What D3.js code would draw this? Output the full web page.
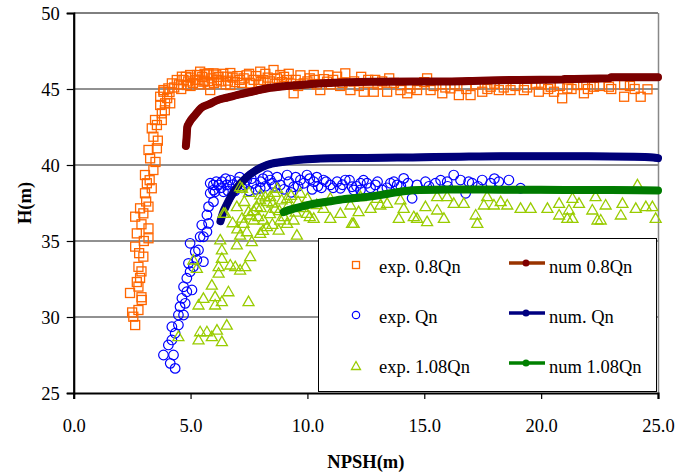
<!DOCTYPE html>
<html><head><meta charset="utf-8">
<script src="https://cdn.jsdelivr.net/npm/d3@7"></script>
<style>
body{margin:0;background:#fff}
svg{display:block}
text{font-family:"Liberation Serif","Times New Roman",serif;fill:#000}
</style>
</head><body>
<svg id="c" width="693" height="474"></svg>
<script>
// ---- data ----
const xTicks = [0, 5, 10, 15, 20, 25];
const yTicks = [25, 30, 35, 40, 45, 50];
const gridValues = [30, 35, 40, 45];
const xTitle = "NPSH(m)";
const yTitle = "H(m)";
const legendLabels = ["exp. 0.8Qn", "num 0.8Qn", "exp. Qn", "num. Qn", "exp. 1.08Qn", "num 1.08Qn"];

const exp08 = [
[2.63,29.47],[2.55,30.02],[2.77,30.46],[2.41,31.58],[2.91,31.12],[2.77,32.0],[2.84,32.57],[2.77,33.3],[2.98,33.97],[2.63,34.63],[3.2,35.18],[2.70,35.5],[3.2,35.83],[2.63,36.6],[2.98,36.82],[2.84,37.15],[3.2,37.26],[3.05,38.14],[3.34,38.47],[3.13,38.8],[3.05,39.34],[3.41,39.67],[3.27,40.44],[3.2,40.99],[3.56,41.1],[3.41,41.86],[3.34,42.41],[3.56,42.63],[3.77,42.96],[3.48,42.96],[3.77,43.4],[3.70,43.95],[3.91,44.06],[3.70,44.49],[3.84,44.82],[4.05,45.04],[4.20,45.37],[4.41,45.59],[4.63,45.81],[4.98,45.92],[5.41,46.14],[5.77,46.03],[6.13,45.59],
[2.5,30.3],[2.9,31.3],[2.7,32.3],[2.9,33.0],[2.8,34.2],[3.0,35.0],[2.9,36.1],[3.1,37.6],[3.25,39.0],[3.5,40.2],[3.6,41.6],[3.9,43.6],[4.0,44.4],[4.1,44.8],[4.3,45.1],
[3.84,44.93],[4.13,44.06],[4.84,45.26],[5.27,45.92],[5.55,45.48],[5.84,44.93],[5.98,46.03],[6.55,45.81],[6.70,45.26],[7.27,45.7],[7.55,45.37],[7.98,46.14],[8.12,45.59],[8.55,46.25],[8.84,45.92],[9.13,45.59],[9.41,44.72],[9.84,45.37],[10.27,45.92],[10.55,44.93],[10.84,45.48],[11.27,45.81],[11.62,46.03],[11.84,44.93],[12.41,44.82],[12.84,44.82],[13.41,44.82],[13.98,44.93],[14.41,45.04],[14.27,44.72],
[4.5,45.3],[4.7,45.6],[4.9,45.5],[5.0,45.75],[5.1,45.4],[5.2,45.6],[5.35,45.3],[5.5,45.8],[5.6,45.55],[5.7,45.95],[5.9,45.7],[6.0,45.4],[6.2,45.8],[6.3,45.5],[6.4,46.0],[6.6,45.55],[6.8,45.75],[6.9,45.45],[7.0,45.85],[7.1,45.6],[7.4,45.9],[7.7,45.6],[7.8,45.85],[8.0,45.45],[8.3,45.75],[8.4,45.5],[8.7,45.7],[8.9,45.45],[9.0,45.8],[9.3,45.35],[9.5,45.6],[9.7,45.9],[10.0,45.5],[10.1,45.7],[10.4,45.3],[10.7,45.65],[11.0,45.3],[11.1,45.6],[11.5,45.4],[12.0,45.5],[12.2,45.2],[12.6,45.6],[13.0,45.3],[13.2,45.5],[13.7,45.4],[14.0,45.25],[14.7,45.3],[15.0,45.45],[15.4,45.2],[15.9,45.1],[16.3,45.3],[16.8,45.0],[17.2,45.3],[17.7,45.0],[18.0,45.35],[18.4,45.1],[18.9,45.2],[19.4,45.1],[20.0,45.3],[20.3,45.0],[20.8,45.2],[21.3,45.0],[21.8,45.3],[22.0,45.0],[22.5,45.2],[23.0,45.0],[23.8,45.2],[24.0,45.0],
[4.6,45.0],[4.8,45.8],[5.0,45.2],[5.3,45.6],[5.6,46.0],[5.8,45.3],[6.1,45.95],[6.5,45.3],[6.7,46.05],[7.2,45.4],[7.5,46.0],[7.9,45.3],[8.2,46.0],[8.6,45.35],[9.2,46.0],[9.6,45.2],[10.3,45.6],[10.9,45.9],[11.4,45.2],[12.3,45.8],[12.9,45.6],[13.5,45.7],
[20.9,44.39],[23.55,44.49],[24.26,44.49],[24.55,44.98],[23.55,45.26],[22.9,45.15],[22.26,45.15],[21.83,44.72],[21.12,45.04],[20.55,44.82],[19.9,44.82],[19.26,44.93],[18.69,44.93],[18.19,44.93],[17.48,44.82],[16.98,44.6],[16.48,44.6],[15.77,44.72],[15.12,45.7],[14.69,44.93],[15.27,44.93],[16.12,45.04],[17.84,45.15],[19.76,45.37],[20.41,45.15],[21.55,45.26]
];

const num08 = [
[4.80,41.25],[4.83,41.8],[4.86,42.5],[4.95,42.8],[5.2,43.3],[5.45,43.75],[5.8,44.0],[6.13,44.25],[6.6,44.45],[7.1,44.65],[7.7,44.85],[8.3,45.05],[9.0,45.18],[9.7,45.27],[10.5,45.36],[11.8,45.45],[13,45.48],[14.5,45.5],[16,45.5],[17.4,45.55],[19,45.6],[20.9,45.62],[21.0,45.66],[22.9,45.7],[23.0,45.77],[25,45.78]
];

const expQn = [
[4.34,26.62],[4.13,26.95],[3.84,27.5],[4.27,27.5],[4.05,28.16],[4.20,28.49],[4.34,28.93],[4.48,29.47],[4.20,29.36],[4.70,30.13],[4.48,30.13],[4.55,30.68],[4.77,30.9],[4.63,31.23],[4.84,31.66],[4.70,31.99],[5.06,31.78],[4.84,32.55],[4.98,32.98],[5.12,33.31],[4.91,33.53],[5.55,33.64],[5.27,33.75],[5.20,34.3],[4.98,34.85],[5.34,34.41],[5.41,35.28],[5.55,35.28],[5.70,35.61],[5.48,36.05],[5.77,36.16],[5.70,36.71],[5.77,37.26],[5.98,37.59],[5.84,38.14],[6.05,38.24],[6.2,38.69],[6.41,38.24],[5.98,38.35],[6.34,38.9],[6.55,38.69],[6.7,39.01],[5.84,38.8],[5.98,38.69],
[7.0,38.9],[7.2,38.5],[7.4,39.0],[7.7,38.8],[7.98,38.47],[8.1,39.1],[8.41,39.01],[8.6,38.6],[8.84,38.69],[9.13,39.34],[9.41,38.57],[9.7,39.01],[9.98,39.34],[10.27,38.9],[10.45,38.6],[6.9,38.3],[7.5,38.3],
[6.1,38.9],[6.3,38.5],[6.5,39.1],[6.6,38.3],[6.8,38.7],[7.1,39.2],[7.3,38.7],[7.6,39.1],[7.8,38.4],[8.0,38.9],[8.2,38.6],[8.3,39.3],[8.5,38.8],[8.7,39.2],[9.0,38.4],[9.2,38.9],[9.3,38.2],[9.5,39.2],[9.6,38.6],[9.85,38.8],[10.1,39.1],[10.2,38.4],[10.4,39.2],[10.6,38.5],[10.8,38.9],[11.1,38.5],[11.5,38.7],[11.8,39.0],[12.1,38.6],[12.4,39.0],[12.7,38.5],[13.0,38.9],[13.4,38.5],[13.7,38.9],[14.0,38.6],[14.3,38.8],[15.2,38.6],[15.7,39.0],[16.0,38.6],[16.9,38.9],[17.3,38.6],[18.0,39.1],
[10.69,39.01],[10.98,38.69],[11.27,38.9],[11.62,39.01],[11.91,38.57],[12.27,38.8],[12.27,38.36],[12.55,38.8],[12.91,38.69],[13.2,38.36],[13.55,38.8],[13.84,38.69],[14.12,39.12],[14.48,37.81],[14.69,38.69],[15.05,38.9],[15.48,38.8],[15.98,38.9],[16.26,39.34],[16.55,39.01],[16.77,38.14],[17.05,38.8],[17.48,39.01],[17.84,38.8],[18.19,38.9],[18.62,39.01],[19.12,38.47],[11.41,38.47],[11.98,38.36]
];

const numQn = [
[6.28,36.3],[6.4,36.9],[6.55,37.4],[6.7,37.85],[6.95,38.45],[7.4,39.2],[7.8,39.65],[8.27,40.0],[8.9,40.2],[9.55,40.33],[10.2,40.4],[11.0,40.44],[12.5,40.46],[14.5,40.5],[16.5,40.55],[18.3,40.58],[20,40.58],[22,40.57],[24,40.55],[24.8,40.5],[25,40.45]
];

const exp108 = [
[4.48,28.71],[5.34,28.49],[5.41,29.03],[5.70,29.03],[5.91,28.71],[6.13,29.14],[6.34,28.38],[6.55,29.47],[5.34,30.79],[5.55,31.23],[6.05,31.34],[6.05,30.79],[6.34,31.01],[6.62,31.66],[7.48,31.01],[5.91,32.1],[6.2,32.88],[6.2,33.31],[5.12,33.75],[5.27,33.2],[6.34,33.86],[6.70,33.42],[7.12,33.09],[6.91,33.31],[7.34,33.31],[7.55,33.97],[6.34,34.41],[6.27,35.07],[6.98,34.74],[7.62,34.96],[7.12,35.39],[7.41,35.61],[7.98,35.5],[9.55,35.39],[7.27,36.16],[7.7,36.38],[8.27,35.94],[8.77,35.72],[9.13,36.16],[6.98,37.26],[6.48,36.82],[7.48,36.93],[7.84,37.26],[7.98,37.7],[8.27,37.59],[8.62,37.15],[8.84,36.38],[9.41,36.38],[9.70,38.14],[8.70,38.47],[7.2,38.47],[7.98,38.03],[8.41,37.92],[9.13,37.81],[9.98,36.82],[10.27,36.49],[7.55,36.71],[8.12,36.38],[7.12,38.57],[6.41,36.82],
[7.3,37.6],[7.5,38.2],[7.7,37.0],[7.9,36.6],[8.0,37.2],[8.2,37.9],[8.4,36.8],[8.5,37.5],[8.6,38.2],[8.8,37.0],[8.9,37.7],[9.0,36.6],[9.2,37.4],[9.3,38.0],[9.5,36.9],[9.6,37.6],[9.8,37.2],[10.0,37.8],[10.1,36.6],[10.4,37.4],[6.8,36.2],[7.0,35.8],[7.2,36.5],[8.1,35.7],[8.5,36.1],
[10.69,37.15],[10.98,36.49],[11.41,36.82],[11.84,37.37],[11.91,36.16],[12.19,36.93],[12.70,37.15],[13.12,37.37],[13.41,37.48],[13.91,36.49],[14.12,37.15],[14.69,36.49],[15.12,36.27],[15.05,37.26],[15.55,37.04],[15.84,36.49],[15.98,37.92],[16.26,37.48],[16.69,37.48],[17.2,36.71],[17.55,37.37],[17.98,37.37],[18.27,37.59],[18.55,37.37],[19.12,37.15],[19.55,37.15],[20.27,37.15],[20.77,37.48],[20.77,36.71],[21.19,37.04],[21.34,37.81],[21.34,36.49],[21.62,37.48],[22.19,37.04],[22.33,37.92],[22.55,36.38],[22.76,37.37],[23.41,36.71],[23.48,37.48],[24.12,38.69],[24.05,37.15],[24.48,37.26],[24.76,37.26],[24.9,36.49],[10.98,37.81],[12.27,37.92],[12.98,37.81],[13.98,37.7],[15.55,37.92],[17.69,37.92],[11.98,36.16],[14.55,36.6],[17.27,36.16],[21.12,36.49],[22.41,36.38]
];

const num108 = [
[8.98,36.9],[9.3,37.08],[9.8,37.28],[10.27,37.45],[11.0,37.62],[11.7,37.78],[12.4,37.88],[13.1,38.02],[13.8,38.2],[14.3,38.3],[14.8,38.35],[16.0,38.38],[17.5,38.38],[19,38.37],[21,38.36],[23,38.35],[25,38.33]
];

// ---- chart ----
const svg = d3.select("#c");
const x = d3.scaleLinear().domain([0, 25]).range([73.7, 658]);
const y = d3.scaleLinear().domain([25, 50]).range([393, 13]);

// gridlines
svg.append("g").selectAll("line").data(gridValues).join("line")
  .attr("x1", x(0)).attr("x2", x(25))
  .attr("y1", d => y(d)).attr("y2", d => y(d))
  .attr("stroke", "#222").attr("stroke-width", 1);

// frame top/right
svg.append("line").attr("x1", x(0)).attr("x2", x(25)).attr("y1", y(50)).attr("y2", y(50)).attr("stroke", "#000").attr("stroke-width", 1);
svg.append("line").attr("x1", x(25)+0.5).attr("x2", x(25)+0.5).attr("y1", y(50)).attr("y2", y(25)).attr("stroke", "#888").attr("stroke-width", 1.5);

// axes
const yAxis = svg.append("g").attr("transform", `translate(${x(0)},0)`)
  .call(d3.axisLeft(y).tickValues(yTicks).tickSize(7).tickPadding(7).tickFormat(d3.format("d")));
const xAxis = svg.append("g").attr("transform", `translate(0,${y(25)})`)
  .call(d3.axisBottom(x).tickValues(xTicks).tickSize(6).tickPadding(20).tickFormat(d3.format(".1f")));
[yAxis, xAxis].forEach(a => {
  a.select(".domain").attr("stroke", "#000").attr("stroke-width", 2.2);
  a.selectAll(".tick line").attr("stroke", "#000").attr("stroke-width", 1.2);
  a.selectAll(".tick text").style("font-family", '"Liberation Serif",serif').style("font-size", "18.5px").attr("fill", "#000");
});
yAxis.selectAll(".tick text").attr("dy", "0.33em");

// marker shapes
const sqSize = 9;
const triPath = "M0,-5.5L5.5,4L-5.5,4Z";
const line = d3.line().x(d => x(d[0])).y(d => y(d[1])).curve(d3.curveMonotoneX);

function drawSquares(data) {
  svg.append("g").selectAll("rect").data(data).join("rect")
    .attr("x", d => x(d[0]) - sqSize/2).attr("y", d => y(d[1]) - sqSize/2)
    .attr("width", sqSize).attr("height", sqSize)
    .attr("fill", "none").attr("stroke", "#FF6600").attr("stroke-width", 1.3);
}
function drawCircles(data) {
  svg.append("g").selectAll("circle").data(data).join("circle")
    .attr("cx", d => x(d[0])).attr("cy", d => y(d[1])).attr("r", 4.8)
    .attr("fill", "none").attr("stroke", "#0000FF").attr("stroke-width", 1.2);
}
function drawTris(data) {
  svg.append("g").selectAll("path").data(data).join("path")
    .attr("d", triPath).attr("transform", d => `translate(${x(d[0])},${y(d[1])})`)
    .attr("fill", "none").attr("stroke", "#99CC00").attr("stroke-width", 1.3);
}
function drawNum(data, lineCol, markCol) {
  svg.append("path").datum(data).attr("d", line)
    .attr("fill", "none").attr("stroke", lineCol).attr("stroke-width", 8)
    .attr("stroke-linecap", "round").attr("stroke-linejoin", "round");
  svg.append("path").datum(data).attr("d", line)
    .attr("fill", "none").attr("stroke", markCol).attr("stroke-width", 7)
    .attr("stroke-linecap", "round").attr("stroke-linejoin", "round");
}

drawSquares(exp08);
drawNum(num08, "#800000", "#7A0000");
drawCircles(expQn);
drawNum(numQn, "#000080", "#000078");
drawTris(exp108);
drawNum(num108, "#008000", "#007A00");

// legend
const lg = svg.append("g");
lg.append("rect").attr("x", 318.5).attr("y", 238.5).attr("width", 338).attr("height", 153)
  .attr("fill", "#fff").attr("stroke", "#000").attr("stroke-width", 1);
const rowY = [265, 315, 365];
const legendLineCols = ["#993300", "#000080", "#008000"];
const legendDotCols = ["#800000", "#000080", "#008000"];
rowY.forEach((ry, i) => {
  if (i === 0) lg.append("rect").attr("x", 352.5).attr("y", ry - 3.5).attr("width", 7).attr("height", 7)
      .attr("fill", "none").attr("stroke", "#FF6600").attr("stroke-width", 1.3);
  if (i === 1) lg.append("circle").attr("cx", 356).attr("cy", ry).attr("r", 3.7)
      .attr("fill", "none").attr("stroke", "#0000FF").attr("stroke-width", 1.2);
  if (i === 2) lg.append("path").attr("d", "M0,-4.5L4.5,3.5L-4.5,3.5Z").attr("transform", `translate(356,${ry+1})`)
      .attr("fill", "none").attr("stroke", "#99CC00").attr("stroke-width", 1.3);
  lg.append("text").attr("x", 379).attr("y", ry + 8).style("font-size", "18.5px").text(legendLabels[i*2]);
  lg.append("line").attr("x1", 509).attr("x2", 545).attr("y1", ry - 2).attr("y2", ry - 2)
    .attr("stroke", legendLineCols[i]).attr("stroke-width", 3.5);
  lg.append("circle").attr("cx", 526).attr("cy", ry - 2).attr("r", 3.5).attr("fill", legendDotCols[i]);
  lg.append("text").attr("x", 549).attr("y", ry + 8).style("font-size", "18.5px").text(legendLabels[i*2+1]);
});

// titles
svg.append("text").attr("x", (x(0)+x(25))/2).attr("y", 468).attr("text-anchor", "middle")
  .style("font-size", "18.5px").style("font-weight", "bold").text(xTitle);
svg.append("text").attr("transform", `translate(31,${(y(25)+y(50))/2}) rotate(-90)`).attr("text-anchor", "middle")
  .style("font-size", "18.5px").style("font-weight", "bold").text(yTitle);
</script>
</body></html>
